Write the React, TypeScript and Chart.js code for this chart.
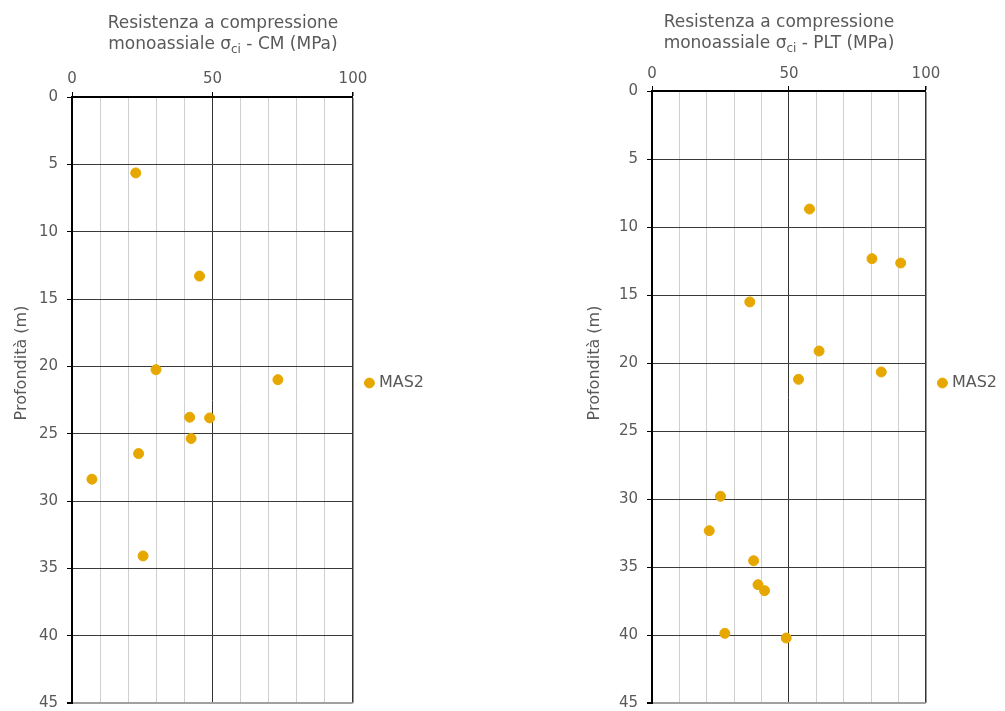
import { useEffect, useRef } from "react";
import { Chart, registerables } from "chart.js";

Chart.register(...registerables);

// ---- data ----
const cmStrength = [22.7, 45.4, 29.9, 73.3, 41.9, 49.0, 42.4, 23.7, 7.1, 25.3];
const cmDepth = [5.64, 13.3, 20.25, 20.99, 23.78, 23.83, 25.36, 26.48, 28.38, 34.08];
const pltStrength = [57.5, 80.3, 90.8, 35.7, 61.0, 83.7, 53.5, 25.0, 20.9, 37.1, 38.7, 41.1, 26.6, 49.0];
const pltDepth = [8.68, 12.33, 12.65, 15.51, 19.12, 20.66, 21.2, 29.8, 32.33, 34.54, 36.3, 36.74, 39.88, 40.22];
const xLabelTicks = [0, 50, 100];
const yTickValues = [0, 5, 10, 15, 20, 25, 30, 35, 40, 45];
const seriesName = "MAS2";
const yTitle = "Profondità (m)";
const titleLine1 = "Resistenza a compressione";
const titleLine2Pre = "monoassiale σ";
const titleLine2Sub = "ci";
const cmLine2Post = " - CM (MPa)";
const pltLine2Post = " - PLT (MPa)";

const FONT = "'DejaVu Sans', sans-serif";
const TEXT = "#595959";
const DOT = "#E6A800";

const titlePlugin = {
  id: "axisTitles",
  afterDraw(chart: any, _args: any, opts: any) {
    const { ctx, chartArea } = chart;
    ctx.save();
    ctx.fillStyle = TEXT;
    ctx.textBaseline = "alphabetic";
    const cx = (chartArea.left + chartArea.right) / 2 + opts.offsetX;
    const mainFont = `17px ${FONT}`;
    const subFont = `12px ${FONT}`;
    ctx.font = mainFont;
    ctx.textAlign = "center";
    ctx.fillText(titleLine1, cx, opts.baseline1);
    ctx.textAlign = "left";
    const wPre = ctx.measureText(titleLine2Pre).width;
    const wPost = ctx.measureText(opts.post).width;
    ctx.font = subFont;
    const wSub = ctx.measureText(titleLine2Sub).width;
    let x = cx - (wPre + wSub + wPost) / 2;
    ctx.font = mainFont;
    ctx.fillText(titleLine2Pre, x, opts.baseline2);
    x += wPre;
    ctx.font = subFont;
    ctx.fillText(titleLine2Sub, x, opts.baseline2 + 4);
    x += wSub;
    ctx.font = mainFont;
    ctx.fillText(opts.post, x, opts.baseline2);
    // y title
    ctx.translate(opts.yTitleX, opts.yTitleY);
    ctx.rotate(-Math.PI / 2);
    ctx.font = `16px ${FONT}`;
    ctx.textAlign = "center";
    ctx.textBaseline = "middle";
    ctx.fillText(yTitle, 0, 0);
    ctx.restore();
  },
};

type PanelProps = {
  left: number;
  width: number;
  xs: number[];
  ys: number[];
  axisWidth: number;
  axisHeight: number;
  xPad: number;
  legendTitlePad: number;
  titleOffsetX: number;
  baseline1: number;
  baseline2: number;
  post: string;
  yTitleX: number;
  yTitleY: number;
};

function Panel(p: PanelProps) {
  const ref = useRef<HTMLCanvasElement | null>(null);
  useEffect(() => {
    if (!ref.current) return;
    const chart = new Chart(ref.current, {
      type: "scatter",
      data: {
        datasets: [
          {
            label: seriesName,
            data: p.xs.map((x, i) => ({ x, y: p.ys[i] })),
            backgroundColor: DOT,
            borderColor: DOT,
            borderWidth: 1,
            pointRadius: 5,
            pointHoverRadius: 5,
            pointStyle: "circle",
          },
        ],
      },
      options: {
        responsive: false,
        animation: false,
        layout: { autoPadding: false, padding: { top: 0, left: 0, right: 0, bottom: 8 } },
        scales: {
          x: {
            type: "linear",
            position: "top",
            min: 0,
            max: 100,
            afterFit: (s: any) => {
              s.height = p.axisHeight;
              s.paddingLeft = 0;
              s.paddingRight = 0;
            },
            ticks: {
              stepSize: 10,
              autoSkip: false,
              maxRotation: 0,
              padding: p.xPad,
              color: TEXT,
              font: { family: FONT, size: 15 },
              callback: (v: any) => (xLabelTicks.includes(Number(v)) ? String(v) : ""),
            },
            grid: {
              color: (c: any) =>
                c.tick && xLabelTicks.includes(c.tick.value) ? "#333333" : "#cfcfcf",
              lineWidth: (c: any) => (c.tick && c.tick.value === 100 ? 1.5 : 1),
              tickColor: (c: any) =>
                c.tick && xLabelTicks.includes(c.tick.value) ? "#000000" : "rgba(0,0,0,0)",
              tickLength: 5,
            },
            border: { display: true, color: "#000000", width: 2 },
          },
          y: {
            type: "linear",
            reverse: true,
            min: 0,
            max: 45,
            afterFit: (s: any) => {
              s.width = p.axisWidth;
              s.paddingTop = 0;
              s.paddingBottom = 0;
            },
            afterBuildTicks: (s: any) => {
              s.ticks = yTickValues.map((value) => ({ value }));
            },
            ticks: {
              autoSkip: false,
              padding: 9,
              color: TEXT,
              font: { family: FONT, size: 15 },
            },
            grid: {
              color: (c: any) => (c.tick && c.tick.value === 45 ? "#a0a0a0" : "#3a3a3a"),
              lineWidth: (c: any) => (c.tick && c.tick.value === 45 ? 2 : 1),
              tickColor: "#000000",
              tickLength: 5,
            },
            border: { display: true, color: "#000000", width: 2 },
          },
        },
        plugins: {
          legend: {
            display: true,
            position: "right",
            align: "start",
            fullSize: false,
            maxWidth: 200,
            title: {
              display: true,
              text: "",
              font: { size: 10, lineHeight: 1 },
              padding: { top: p.legendTitlePad, bottom: 0 },
            },
            labels: {
              usePointStyle: true,
              boxWidth: 3,
              boxHeight: 7,
              padding: 15,
              color: TEXT,
              font: { family: FONT, size: 16 },
            },
          },
          tooltip: { enabled: false },
          axisTitles: {
            offsetX: p.titleOffsetX,
            baseline1: p.baseline1,
            baseline2: p.baseline2,
            post: p.post,
            yTitleX: p.yTitleX,
            yTitleY: p.yTitleY,
          },
        } as any,
      },
      plugins: [titlePlugin],
    });
    return () => chart.destroy();
  }, []);
  return (
    <div style={{ position: "absolute", left: p.left, top: 0, width: p.width, height: 711 }}>
      <canvas ref={ref} width={p.width} height={711} style={{ display: "block" }} />
    </div>
  );
}

export default function App() {
  return (
    <div
      style={{
        position: "absolute",
        left: 0,
        top: 0,
        width: 1005,
        height: 711,
        background: "#ffffff",
        overflow: "hidden",
      }}
    >
      <Panel
        left={0}
        width={434}
        xs={cmStrength}
        ys={cmDepth}
        axisWidth={72}
        axisHeight={97}
        xPad={4}
        legendTitlePad={253}
        titleOffsetX={10.5}
        baseline1={28}
        baseline2={49}
        post={cmLine2Post}
        yTitleX={21.5}
        yTitleY={363}
      />
      <Panel
        left={560}
        width={447}
        xs={pltStrength}
        ys={pltDepth}
        axisWidth={92}
        axisHeight={91}
        xPad={3}
        legendTitlePad={259}
        titleOffsetX={-10}
        baseline1={27}
        baseline2={48}
        post={pltLine2Post}
        yTitleX={34.5}
        yTitleY={363}
      />
    </div>
  );
}
